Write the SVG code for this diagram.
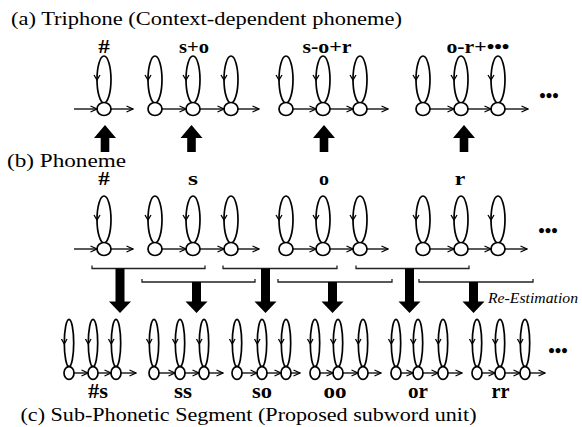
<svg xmlns="http://www.w3.org/2000/svg" xmlns:xlink="http://www.w3.org/1999/xlink" width="582" height="427" viewBox="0 0 582 427">
<style>
.cap{font-family:"Liberation Serif","Times New Roman",serif;font-size:18px;fill:#000}
.lb{font-family:"Liberation Serif","Times New Roman",serif;font-size:18.5px;font-weight:bold;fill:#000;text-anchor:middle}
.lc{font-family:"Liberation Serif","Times New Roman",serif;font-size:20px;font-weight:bold;fill:#000;text-anchor:middle}
.it{font-family:"Liberation Serif","Times New Roman",serif;font-size:15.5px;font-style:italic;fill:#000}
.st{fill:#fff;stroke:#000;stroke-width:1.7}
.lp{fill:none;stroke:#000;stroke-width:1.7}
.la{fill:none;stroke:#000;stroke-width:1.3}
.ar{fill:none;stroke:#000;stroke-width:1.3;marker-end:url(#ah)}
.br{fill:none;stroke:#222;stroke-width:1.3}
.big{fill:#000}
</style>
<defs>
<marker id="ah" viewBox="0 0 8 8" refX="7.5" refY="4" markerWidth="8" markerHeight="8" markerUnits="userSpaceOnUse" orient="auto">
<path d="M1,1 L7.5,4 L1,7" fill="none" stroke="#000" stroke-width="1.2"/>
</marker>
<g id="sA">
<ellipse class="lp" cx="0" cy="-29.5" rx="7" ry="23.5"/>
<path class="la" d="M-10,-34 L-7,-29 L-4,-34"/>
<ellipse class="st" cx="0" cy="0" rx="7" ry="6.5"/>
</g>
<g id="sC">
<ellipse class="lp" cx="0" cy="-30" rx="4.7" ry="23.7"/>
<path class="la" d="M-7.5,-34 L-4.7,-29 L-2,-34"/>
<ellipse class="st" cx="0" cy="0" rx="5" ry="6.3"/>
</g>
</defs>
<rect width="582" height="427" fill="#fff"/>

<text class="cap" x="11" y="25" textLength="391" lengthAdjust="spacingAndGlyphs">(a) Triphone (Context-dependent phoneme)</text>
<text class="cap" x="7" y="166.5" textLength="119" lengthAdjust="spacingAndGlyphs">(b) Phoneme</text>
<text class="cap" x="20.5" y="421" textLength="456" lengthAdjust="spacingAndGlyphs">(c) Sub-Phonetic Segment (Proposed subword unit)</text>

<g id="a-sil">
<use xlink:href="#sA" x="104" y="109"/>
<text class="lb" x="104" y="53" textLength="11.5" lengthAdjust="spacingAndGlyphs">#</text>
</g>
<g id="a-s">
<use xlink:href="#sA" x="155" y="109"/><use xlink:href="#sA" x="193" y="109"/><use xlink:href="#sA" x="231" y="109"/>
<text class="lb" x="194" y="53" textLength="30" lengthAdjust="spacingAndGlyphs">s+o</text>
</g>
<g id="a-o">
<use xlink:href="#sA" x="286" y="109"/><use xlink:href="#sA" x="323" y="109"/><use xlink:href="#sA" x="360" y="109"/>
<text class="lb" x="327" y="53" textLength="49" lengthAdjust="spacingAndGlyphs">s-o+r</text>
</g>
<g id="a-r">
<use xlink:href="#sA" x="423" y="109"/><use xlink:href="#sA" x="461" y="109"/><use xlink:href="#sA" x="498" y="109"/>
<text class="lb" x="478" y="53" textLength="63" lengthAdjust="spacingAndGlyphs">o-r+•••</text>
</g>
<text class="lb" x="549" y="102">•••</text>

<g id="b-sil">
<use xlink:href="#sA" x="104" y="249"/>
<text class="lb" x="104" y="185" textLength="11.5" lengthAdjust="spacingAndGlyphs">#</text>
</g>
<g id="b-s">
<use xlink:href="#sA" x="155" y="249"/><use xlink:href="#sA" x="193" y="249"/><use xlink:href="#sA" x="231" y="249"/>
<text class="lb" x="193" y="185" textLength="10" lengthAdjust="spacingAndGlyphs">s</text>
</g>
<g id="b-o">
<use xlink:href="#sA" x="286" y="249"/><use xlink:href="#sA" x="323" y="249"/><use xlink:href="#sA" x="360" y="249"/>
<text class="lb" x="324" y="185" textLength="10" lengthAdjust="spacingAndGlyphs">o</text>
</g>
<g id="b-r">
<use xlink:href="#sA" x="423" y="249"/><use xlink:href="#sA" x="461" y="249"/><use xlink:href="#sA" x="498" y="249"/>
<text class="lb" x="460" y="185" textLength="10.5" lengthAdjust="spacingAndGlyphs">r</text>
</g>
<text class="lb" x="548" y="237">•••</text>

<g id="c-sils">
<use xlink:href="#sC" x="69" y="373"/><use xlink:href="#sC" x="93" y="373"/><use xlink:href="#sC" x="116" y="373"/>
<text class="lc" x="98" y="398" textLength="20" lengthAdjust="spacingAndGlyphs">#s</text>
</g>
<g id="c-ss">
<use xlink:href="#sC" x="154" y="373"/><use xlink:href="#sC" x="180" y="373"/><use xlink:href="#sC" x="204" y="373"/>
<text class="lc" x="183" y="398" textLength="18" lengthAdjust="spacingAndGlyphs">ss</text>
</g>
<g id="c-so">
<use xlink:href="#sC" x="237" y="373"/><use xlink:href="#sC" x="262" y="373"/><use xlink:href="#sC" x="286" y="373"/>
<text class="lc" x="262" y="398" textLength="20" lengthAdjust="spacingAndGlyphs">so</text>
</g>
<g id="c-oo">
<use xlink:href="#sC" x="315" y="373"/><use xlink:href="#sC" x="338" y="373"/><use xlink:href="#sC" x="363" y="373"/>
<text class="lc" x="335" y="398" textLength="23" lengthAdjust="spacingAndGlyphs">oo</text>
</g>
<g id="c-or">
<use xlink:href="#sC" x="396" y="373"/><use xlink:href="#sC" x="418" y="373"/><use xlink:href="#sC" x="443" y="373"/>
<text class="lc" x="418" y="398" textLength="20" lengthAdjust="spacingAndGlyphs">or</text>
</g>
<g id="c-rr">
<use xlink:href="#sC" x="477" y="373"/><use xlink:href="#sC" x="500" y="373"/><use xlink:href="#sC" x="525" y="373"/>
<text class="lc" x="500.5" y="398" textLength="18" lengthAdjust="spacingAndGlyphs">rr</text>
</g>
<text class="lb" x="558" y="357">•••</text>
<text class="it" x="488" y="303" textLength="90" lengthAdjust="spacingAndGlyphs">Re-Estimation</text>

<g id="connectors">
<path class="ar" d="M74,109H97"/><path class="ar" d="M111,109H133"/>
<path class="ar" d="M162,109H186"/><path class="ar" d="M200,109H224"/><path class="ar" d="M238,109H259"/>
<path class="ar" d="M293,109H316"/><path class="ar" d="M330,109H353"/><path class="ar" d="M367,109H388"/>
<path class="ar" d="M430,109H454"/><path class="ar" d="M468,109H491"/><path class="ar" d="M505,109H528"/>
<path class="ar" d="M74,249H97"/><path class="ar" d="M111,249H133"/>
<path class="ar" d="M162,249H186"/><path class="ar" d="M200,249H224"/><path class="ar" d="M238,249H259"/>
<path class="ar" d="M293,249H316"/><path class="ar" d="M330,249H353"/><path class="ar" d="M367,249H388"/>
<path class="ar" d="M430,249H454"/><path class="ar" d="M468,249H491"/><path class="ar" d="M505,249H527"/>
<path class="ar" d="M74,373H88"/><path class="ar" d="M98,373H111"/><path class="ar" d="M121,373H136"/>
<path class="ar" d="M159,373H175"/><path class="ar" d="M185,373H199"/><path class="ar" d="M209,373H223"/>
<path class="ar" d="M242,373H257"/><path class="ar" d="M267,373H281"/><path class="ar" d="M291,373H300"/>
<path class="ar" d="M320,373H333"/><path class="ar" d="M343,373H358"/><path class="ar" d="M368,373H381"/>
<path class="ar" d="M401,373H413"/><path class="ar" d="M423,373H438"/><path class="ar" d="M448,373H462"/>
<path class="ar" d="M482,373H495"/><path class="ar" d="M505,373H520"/><path class="ar" d="M530,373H545"/>
<polygon class="big" points="105,125 116,138 109.3,138 109.3,152 100.7,152 100.7,138 94,138"/>
<polygon class="big" points="191.5,125 202.5,138 195.8,138 195.8,152 187.2,152 187.2,138 180.5,138"/>
<polygon class="big" points="324,125 335,138 328.3,138 328.3,152 319.7,152 319.7,138 313,138"/>
<polygon class="big" points="464,125 475,138 468.3,138 468.3,152 459.7,152 459.7,138 453,138"/>
<path class="br" d="M92,265.5V268.5H205V265.5"/>
<path class="br" d="M223,265.5V268.5H337V265.5"/>
<path class="br" d="M356,265.5V268.5H469V265.5"/>
<path class="br" d="M142,279V282H255V279"/>
<path class="br" d="M278,279V282H392V279"/>
<path class="br" d="M419,279V282H533V279"/>
<polygon class="big" points="115.5,268.5 124.5,268.5 124.5,301.5 131,301.5 120,313 109,301.5 115.5,301.5"/>
<polygon class="big" points="192,282 201,282 201,301.5 207.5,301.5 196.5,313 185.5,301.5 192,301.5"/>
<polygon class="big" points="261,268.5 270,268.5 270,301.5 276.5,301.5 265.5,313 254.5,301.5 261,301.5"/>
<polygon class="big" points="328,282 337,282 337,301.5 343.5,301.5 332.5,313 321.5,301.5 328,301.5"/>
<polygon class="big" points="405,268.5 414,268.5 414,301.5 420.5,301.5 409.5,313 398.5,301.5 405,301.5"/>
<polygon class="big" points="469,282 478,282 478,301.5 484.5,301.5 473.5,313 462.5,301.5 469,301.5"/>
</g>
</svg>
